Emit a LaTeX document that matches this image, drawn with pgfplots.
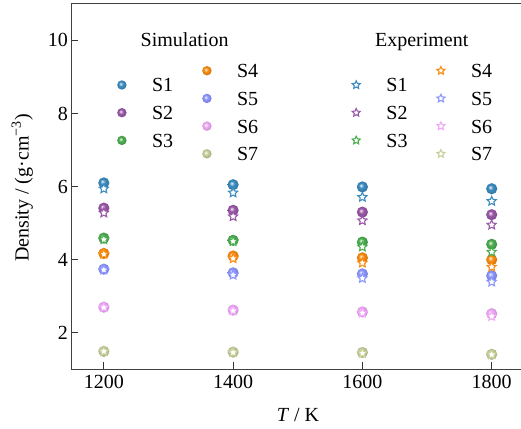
\documentclass[border=0pt]{standalone}
\usepackage{fontspec}
\setmainfont{Liberation Serif}
\usepackage{pgfplots}
\pgfplotsset{compat=1.18}

\definecolor{c1}{HTML}{3C8CC0}
\definecolor{c2}{HTML}{9A58A8}
\definecolor{c3}{HTML}{4CAD50}
\definecolor{c4}{HTML}{FA8C10}
\definecolor{c5}{HTML}{8C96FF}
\definecolor{c6}{HTML}{F0A8F8}
\definecolor{c7}{HTML}{C8D09A}

\colorlet{sphc}{black}
\pgfdeclareradialshading[sphc]{sphshade}{\pgfpoint{-7bp}{7bp}}{%
 color(0bp)=(sphc!5!white); color(3bp)=(sphc!35!white); color(11bp)=(sphc);
 color(25bp)=(sphc!85!black); color(50bp)=(sphc!85!black)}
\pgfdeclareplotmark{sphere}{%
 \pgfpathcircle{\pgfpointorigin}{\pgfplotmarksize}%
 \pgfshadepath{sphshade}{0}\pgfusepath{}}
\pgfdeclareplotmark{hstar}{%
 \pgfpathmoveto{\pgfpointpolar{90}{\pgfplotmarksize}}%
 \pgfpathlineto{\pgfpointpolar{126}{0.48\pgfplotmarksize}}%
 \pgfpathlineto{\pgfpointpolar{162}{\pgfplotmarksize}}%
 \pgfpathlineto{\pgfpointpolar{198}{0.48\pgfplotmarksize}}%
 \pgfpathlineto{\pgfpointpolar{234}{\pgfplotmarksize}}%
 \pgfpathlineto{\pgfpointpolar{270}{0.48\pgfplotmarksize}}%
 \pgfpathlineto{\pgfpointpolar{306}{\pgfplotmarksize}}%
 \pgfpathlineto{\pgfpointpolar{342}{0.48\pgfplotmarksize}}%
 \pgfpathlineto{\pgfpointpolar{18}{\pgfplotmarksize}}%
 \pgfpathlineto{\pgfpointpolar{54}{0.48\pgfplotmarksize}}%
 \pgfpathclose\pgfusepathqfillstroke}
\tikzset{sphcol/.code={\colorlet{sphc}{#1}}}

\newcommand{\bigf}{\fontsize{20}{24}\selectfont}

\pgfplotsset{
 base/.style={scale only axis, width=452.5pt, height=365.5pt,
  xmin=1150, xmax=1850, ymin=1, ymax=11, clip=false},
 leg/.style={legend style={draw=none, fill=none, inner sep=0pt, outer sep=0pt,
   font=\bigf, row sep=13.7pt, column sep=18pt,
   nodes={inner sep=0pt, outer sep=0pt, text height=14pt, text depth=0pt},
   at={(axis description cs:#1)}, anchor=north west},
   legend cell align=left},
 sim/.style={only marks, mark=sphere, mark size=5.6pt, mark options={sphcol=#1}},
 exp/.style={only marks, mark=hstar, mark size=4.8pt,
   mark options={draw=#1, fill=white, line width=1.1pt, solid}},
 simleg/.style={legend image code/.code={\path (0pt,-5pt) (24pt,5pt);
   \draw[##1, only marks, mark size=4.7pt] plot coordinates {(12pt,0pt)};}},
 expleg/.style={legend image code/.code={\path (0pt,-5pt) (24pt,5pt);
   \draw[##1, only marks, mark size=4.2pt] plot coordinates {(12pt,0pt)};}},
}

\begin{document}
\begin{tikzpicture}
\useasboundingbox (-71.5pt,-58.7pt) rectangle (449.5pt,369.3pt);
% Simulation S1-S3 (main axis)
\begin{axis}[base, leg={0.0844,0.797}, simleg,
  xtick={1200,1400,1600,1800}, ytick={2,4,6,8,10},
  xtick pos=bottom, ytick pos=left, tick align=inside,
  major tick length=7pt,
  tick style={line width=1.2pt, color=black!80},
  axis line style={line width=1.2pt, color=black!75},
  /pgf/number format/set thousands separator={},
  /pgf/number format/assume math mode=true,
  tick label style={font=\bigf, color=black},
  xticklabel style={yshift=-2.5pt},
  label style={font=\bigf},
  xlabel={\textit{T} / K},
  xlabel style={at={(axis description cs:0.5006,0)}, anchor=base, yshift=-52pt},
  ylabel={Density / (g·cm\textsuperscript{−3})},
  ylabel style={at={(axis description cs:-0.095,0.496)}, anchor=base, rotate=0},
]
\addplot[sim=c1] coordinates {(1200,6.10) (1400,6.05) (1600,5.99) (1800,5.94)};
\addlegendentry{S1}
\addplot[sim=c2] coordinates {(1200,5.41) (1400,5.35) (1600,5.30) (1800,5.23)};
\addlegendentry{S2}
\addplot[sim=c3] coordinates {(1200,4.59) (1400,4.53) (1600,4.48) (1800,4.42)};
\addlegendentry{S3}
\node[font=\bigf, anchor=base] at (axis description cs:0.250,0.8826) {Simulation};
\node[font=\bigf, anchor=base] at (axis description cs:0.774,0.8826) {Experiment};
\end{axis}
% Simulation S4-S7
\begin{axis}[base, hide axis, leg={0.2723,0.836}, simleg]
\addplot[sim=c4] coordinates {(1200,4.17) (1400,4.10) (1600,4.05) (1800,4.00)};
\addlegendentry{S4}
\addplot[sim=c5] coordinates {(1200,3.74) (1400,3.64) (1600,3.61) (1800,3.56)};
\addlegendentry{S5}
\addplot[sim=c6] coordinates {(1200,2.70) (1400,2.62) (1600,2.57) (1800,2.52)};
\addlegendentry{S6}
\addplot[sim=c7] coordinates {(1200,1.49) (1400,1.47) (1600,1.46) (1800,1.41)};
\addlegendentry{S7}
\end{axis}
% Experiment S1-S3
\begin{axis}[base, hide axis, leg={0.6022,0.797}, expleg]
\addplot[exp=c1] coordinates {(1200,5.94) (1400,5.83) (1600,5.71) (1800,5.60)};
\addlegendentry{S1}
\addplot[exp=c2] coordinates {(1200,5.28) (1400,5.18) (1600,5.07) (1800,4.95)};
\addlegendentry{S2}
\addplot[exp=c3] coordinates {(1200,4.55) (1400,4.50) (1600,4.35) (1800,4.21)};
\addlegendentry{S3}
\end{axis}
% Experiment S4-S7
\begin{axis}[base, hide axis, leg={0.7894,0.836}, expleg]
\addplot[exp=c4] coordinates {(1200,4.15) (1400,4.03) (1600,3.91) (1800,3.80)};
\addlegendentry{S4}
\addplot[exp=c5] coordinates {(1200,3.72) (1400,3.58) (1600,3.49) (1800,3.39)};
\addlegendentry{S5}
\addplot[exp=c6] coordinates {(1200,2.69) (1400,2.60) (1600,2.54) (1800,2.45)};
\addlegendentry{S6}
\addplot[exp=c7] coordinates {(1200,1.49) (1400,1.46) (1600,1.44) (1800,1.40)};
\addlegendentry{S7}
\end{axis}
\end{tikzpicture}
\end{document}
